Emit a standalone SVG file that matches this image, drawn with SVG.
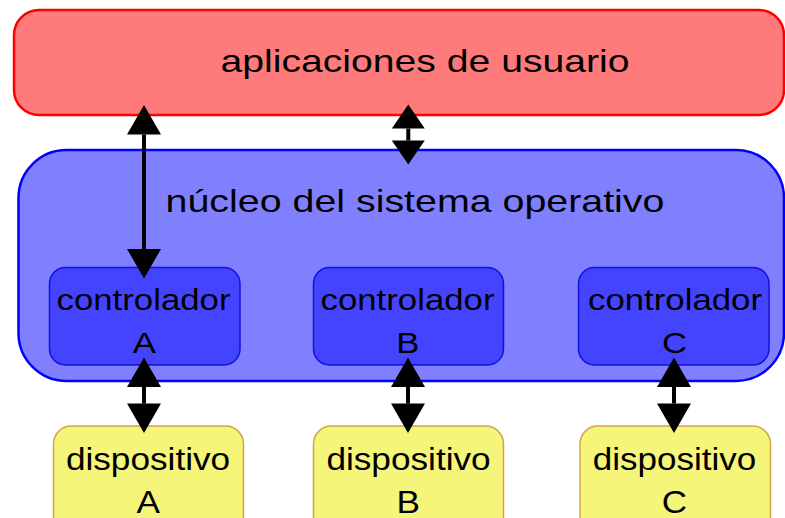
<svg xmlns="http://www.w3.org/2000/svg" width="785" height="518" viewBox="0 0 785 518">
<defs>
<style>
text{font-family:"Liberation Sans",Arial,sans-serif;fill:#000;text-anchor:middle;}
.apps{fill:#ff7b7b;stroke:#ff0000;stroke-width:2.5;}
.kern{fill:#8080ff;stroke:#0000ff;stroke-width:2.5;}
.ctrl{fill:#4444ff;stroke:#1010e0;stroke-width:1.5;}
.dev{fill:#f5f57a;stroke:#d2a448;stroke-width:1.5;}
.conn{stroke:#000;stroke-width:4;fill:none;}
.big{font-size:31.5px;}
.ct{font-size:29px;}
.dt{font-size:31px;}
</style>
<marker id="ah" markerUnits="userSpaceOnUse" orient="auto-start-reverse" refX="0" refY="0" markerWidth="40" markerHeight="40" viewBox="0 -20 40 40" overflow="visible">
<path d="M0,-17 L29.5,0 L0,17 Z" fill="#000"/>
</marker>
<marker id="ahs" markerUnits="userSpaceOnUse" orient="auto-start-reverse" refX="0" refY="0" markerWidth="40" markerHeight="40" viewBox="0 -20 40 40" overflow="visible">
<path d="M0,-16.5 L24,0 L0,16.5 Z" fill="#000"/>
</marker>
</defs>
<g id="apps">
<rect class="apps" x="14" y="10" width="770" height="105" rx="25" ry="25"/>
<text class="big" transform="translate(425,72) scale(1.243,1)">aplicaciones de usuario</text>
</g>
<g id="kernel">
<rect class="kern" x="18.5" y="150" width="765.5" height="231" rx="48" ry="48"/>
<text class="big" transform="translate(415,212) scale(1.25,1)">núcleo del sistema operativo</text>
</g>
<g id="ctrlA">
<rect class="ctrl" x="49.5" y="267.5" width="190.5" height="97.5" rx="16" ry="16"/>
<text class="ct" transform="translate(143.5,309.5) scale(1.2,1)">controlador</text>
<text class="ct" transform="translate(144.3,353) scale(1.2,1)">A</text>
</g>
<g id="ctrlB">
<rect class="ctrl" x="313.5" y="267.5" width="190" height="97.5" rx="16" ry="16"/>
<text class="ct" transform="translate(407.5,309.5) scale(1.2,1)">controlador</text>
<text class="ct" transform="translate(407.8,353) scale(1.2,1)">B</text>
</g>
<g id="ctrlC">
<rect class="ctrl" x="578.5" y="267.5" width="190.5" height="97.5" rx="16" ry="16"/>
<text class="ct" transform="translate(675,309.5) scale(1.2,1)">controlador</text>
<text class="ct" transform="translate(674.5,353) scale(1.2,1)">C</text>
</g>
<g id="devA">
<rect class="dev" x="53.5" y="426" width="190" height="110" rx="18" ry="18"/>
<text class="dt" transform="translate(148,469.5) scale(1.135,1)">dispositivo</text>
<text class="dt" transform="translate(148.3,512.5) scale(1.135,1)">A</text>
</g>
<g id="devB">
<rect class="dev" x="313.5" y="426" width="190" height="110" rx="18" ry="18"/>
<text class="dt" transform="translate(408.5,469.5) scale(1.135,1)">dispositivo</text>
<text class="dt" transform="translate(408.3,512.5) scale(1.135,1)">B</text>
</g>
<g id="devC">
<rect class="dev" x="580" y="426" width="190.5" height="110" rx="18" ry="18"/>
<text class="dt" transform="translate(674.5,469.5) scale(1.13,1)">dispositivo</text>
<text class="dt" transform="translate(674.5,512.5) scale(1.13,1)">C</text>
</g>
<g id="connectors">
<path class="conn" d="M144,134.5 L144,249" marker-start="url(#ah)" marker-end="url(#ah)"/>
<path class="conn" d="M408.3,128.5 L408.3,140.5" marker-start="url(#ahs)" marker-end="url(#ahs)"/>
<path class="conn" d="M144,387 L144,403.5" marker-start="url(#ah)" marker-end="url(#ah)"/>
<path class="conn" d="M408,387 L408,403.5" marker-start="url(#ah)" marker-end="url(#ah)"/>
<path class="conn" d="M674,387 L674,403.5" marker-start="url(#ah)" marker-end="url(#ah)"/>
</g>
</svg>
